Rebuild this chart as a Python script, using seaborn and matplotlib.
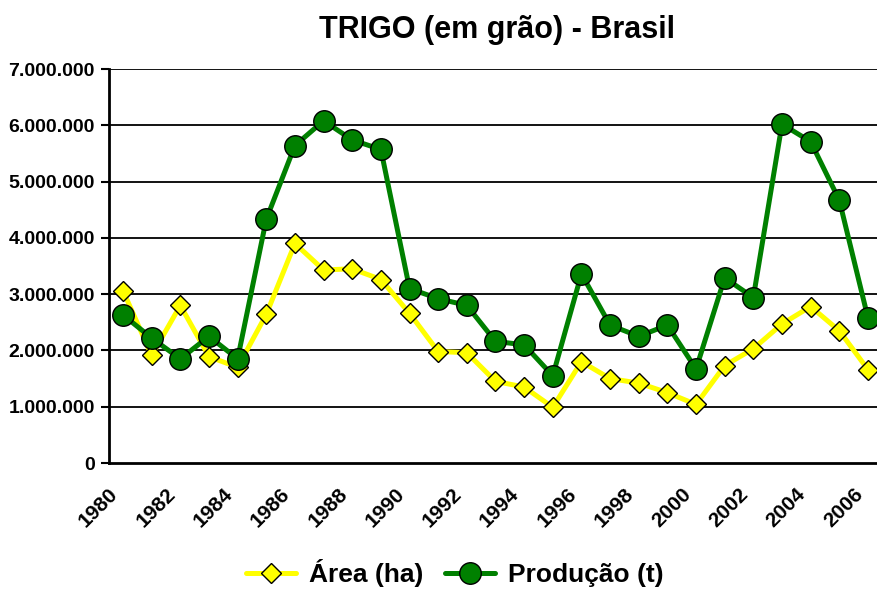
import pandas as pd
import matplotlib.pyplot as plt
import matplotlib.transforms as mtransforms
from matplotlib.ticker import FuncFormatter
import seaborn as sns

years = list(range(1980, 2007))
area_ha = [3060000, 1910000, 2800000, 1890000, 1700000, 2640000, 3900000, 3430000,
           3450000, 3260000, 2660000, 1980000, 1960000, 1450000, 1350000, 990000,
           1800000, 1500000, 1420000, 1250000, 1040000, 1730000, 2030000, 2470000,
           2780000, 2350000, 1660000]
producao_t = [2630000, 2220000, 1850000, 2250000, 1850000, 4330000, 5640000, 6080000,
              5740000, 5570000, 3100000, 2920000, 2800000, 2160000, 2100000, 1550000,
              3360000, 2450000, 2250000, 2450000, 1670000, 3290000, 2940000, 6020000,
              5710000, 4670000, 2580000]
y_ticks = [0, 1000000, 2000000, 3000000, 4000000, 5000000, 6000000, 7000000]

df = pd.DataFrame({'ano': years, 'area': area_ha, 'producao': producao_t})

sns.set_style("white")
plt.rcParams['font.family'] = ['Liberation Sans', 'DejaVu Sans']
plt.rcParams['font.weight'] = 'bold'
for k in ['text.color', 'axes.labelcolor', 'xtick.color', 'ytick.color']:
    plt.rcParams[k] = 'black'

fig = plt.figure(figsize=(8.77, 5.90), dpi=100)
ax = fig.add_axes([108.7 / 877, 1 - 463 / 590, (877 - 108.7) / 877, (463 - 69) / 590])

sns.lineplot(data=df, x='ano', y='area', ax=ax, color='#FFFF00', lw=3.6,
             marker='D', markersize=10.5, markerfacecolor='#FFFF00',
             markeredgecolor='black', markeredgewidth=1.0, label='Área (ha)', zorder=3)
sns.lineplot(data=df, x='ano', y='producao', ax=ax, color='#008000', lw=3.6,
             marker='o', markersize=15.5, markerfacecolor='#008000',
             markeredgecolor='black', markeredgewidth=1.0, label='Produção (t)', zorder=4)

ax.set_xlim(years[0] - 0.5, years[0] - 0.5 + (877 - 108.7) / 28.65)
ax.set_ylim(0, 7000000)
ax.set_yticks(y_ticks)
ax.yaxis.set_major_formatter(FuncFormatter(lambda v, p: f'{int(v):,}'.replace(',', '.')))
for v in y_ticks[1:]:
    ax.axhline(v, color='black', lw=1.3, zorder=1)

ax.set_xticks(years[::2])
ax.set_xticklabels([str(y) for y in years[::2]])
ax.tick_params(axis='x', length=0, pad=20, labelsize=15)
ax.tick_params(axis='y', length=6, width=1.5, direction='out', left=True, pad=4, labelsize=14)
offset = mtransforms.ScaledTranslation(-8 / 100, 0, fig.dpi_scale_trans)
for lbl in ax.get_xticklabels():
    lbl.set_rotation(45)
    lbl.set_ha('right')
    lbl.set_va('center')
    lbl.set_rotation_mode('anchor')
    lbl.set_transform(lbl.get_transform() + offset)
    lbl.set_fontweight('bold')
for lbl in ax.get_yticklabels():
    lbl.set_fontweight('bold')

sns.despine(ax=ax, top=True, right=True)
ax.spines['left'].set_linewidth(2)
ax.spines['bottom'].set_linewidth(2)
ax.spines['left'].set_color('black')
ax.spines['bottom'].set_color('black')
ax.set_xlabel('')
ax.set_ylabel('')

fig.text(497 / 877, 1 - 30 / 590, 'TRIGO (em grão) - Brasil', ha='center', va='center',
         fontsize=22, fontweight='bold')

handles, labels = ax.get_legend_handles_labels()
ax.get_legend().remove()
fig.legend(handles, labels, loc='center', bbox_to_anchor=(455 / 877, 1 - 573 / 590),
           ncol=2, frameon=False, handlelength=1.9, columnspacing=0.8,
           handletextpad=0.5, borderpad=0.1, prop={'weight': 'bold', 'size': 19})

fig.savefig('out.png', dpi=100)
